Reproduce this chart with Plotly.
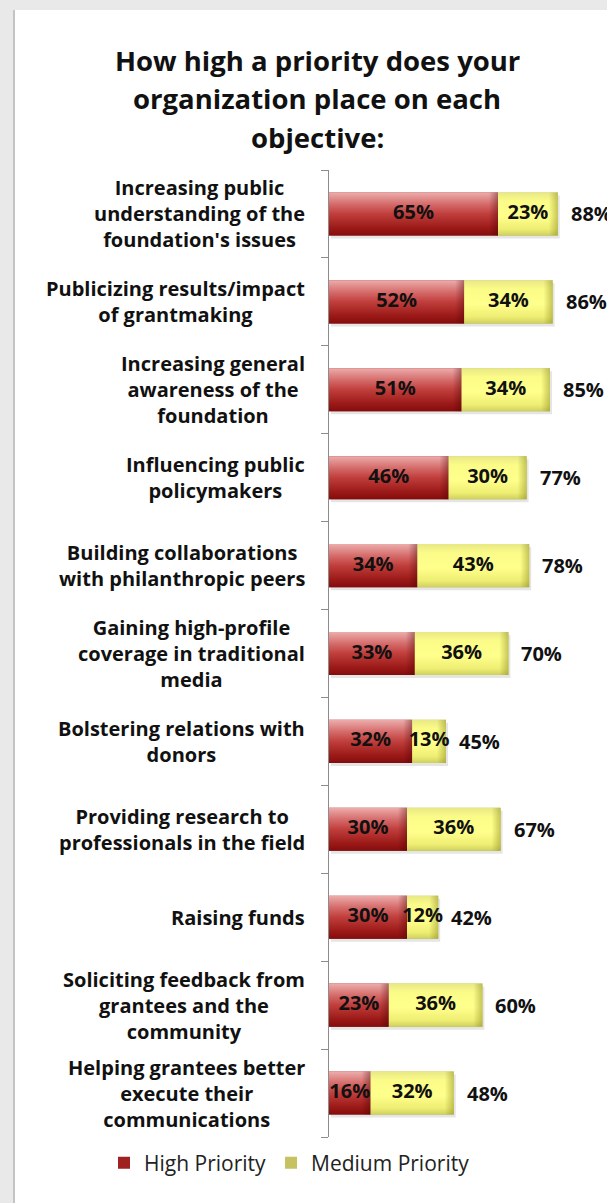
import plotly.graph_objects as go

# Survey objectives, top to bottom
categories = [
    "Increasing public<br>understanding of the<br>foundation's issues",
    "Publicizing results/impact<br>of grantmaking",
    "Increasing general<br>awareness of the<br>foundation",
    "Influencing public<br>policymakers",
    "Building collaborations<br>with philanthropic peers",
    "Gaining high-profile<br>coverage in traditional<br>media",
    "Bolstering relations with<br>donors",
    "Providing research to<br>professionals in the field",
    "Raising funds",
    "Soliciting feedback from<br>grantees and the<br>community",
    "Helping grantees better<br>execute their<br>communications",
]
high_priority = [65, 52, 51, 46, 34, 33, 32, 30, 30, 23, 16]
medium_priority = [23, 34, 34, 30, 43, 36, 13, 36, 12, 36, 32]
total_priority = [88, 86, 85, 77, 78, 70, 45, 67, 42, 60, 48]

title_lines = ["How high a priority does your", "organization place on each", "objective:"]

FONT = "Open Sans"
INK = "#111111"

W, H = 607, 1203
ML, MR, MT, MB = 329, 18, 170, 66
PW, PH = W - ML - MR, H - MT - MB
BAR_W = 0.49

# colour stops listed bottom edge first
RED_SCALE = [[0, "#840c0c"], [0.2, "#9e1c1a"], [0.5, "#c03e3c"], [0.72, "#d46a69"], [1, "#ecadac"]]
YEL_SCALE = [[0, "#cfcf5e"], [0.15, "#eeee74"], [0.45, "#ffff8c"], [0.8, "#fbfb88"], [1, "#e8e886"]]
RED_EDGE = [[0, "rgba(70,0,0,0)"], [1, "rgba(70,0,0,0.38)"]]
YEL_EDGE = [[0, "rgba(130,130,20,0)"], [1, "rgba(130,130,20,0.45)"]]


def px_x(px):
    return (px - ML) / PW


def px_y(py):
    return (H - MB - py) / PH


pos = list(range(len(categories)))
fig = go.Figure()

# Base bars (also provide the legend swatches)
fig.add_trace(go.Bar(y=pos, x=high_priority, orientation="h", width=BAR_W,
                     name="High Priority", marker=dict(color="#9e2220", line=dict(width=0)),
                     hoverinfo="skip"))
fig.add_trace(go.Bar(y=pos, x=medium_priority, base=high_priority, orientation="h", width=BAR_W,
                     name="Medium Priority", marker=dict(color="#c6c262", line=dict(width=0)),
                     hoverinfo="skip"))

half = BAR_W / 2
dx_px, dy_px = 2.0 / (PW / 100), 3.0 / (PH / len(categories))

# Soft shadow under each bar
for i, (h, m) in enumerate(zip(high_priority, medium_priority)):
    fig.add_trace(go.Scatter(
        x=[dx_px, h + m + dx_px, h + m + dx_px, dx_px, dx_px],
        y=[i - half + dy_px, i - half + dy_px, i + half + dy_px, i + half + dy_px, i - half + dy_px],
        mode="lines", line=dict(width=0), fill="toself", fillcolor="rgba(0,0,0,0.10)",
        showlegend=False, hoverinfo="skip"))

# Shaded faces drawn over each segment, with a darker band at the segment's end
for i, (h, m) in enumerate(zip(high_priority, medium_priority)):
    for x0, x1, scale, edge in ((0, h, RED_SCALE, RED_EDGE), (h, h + m, YEL_SCALE, YEL_EDGE)):
        ys = [i - half, i - half, i + half, i + half, i - half]
        fig.add_trace(go.Scatter(
            x=[x0, x1, x1, x0, x0], y=ys,
            mode="lines", line=dict(width=0), fill="toself",
            fillgradient=dict(type="vertical", colorscale=scale),
            showlegend=False, hoverinfo="skip"))
        e0 = max(x0, x1 - 3.5)
        fig.add_trace(go.Scatter(
            x=[e0, x1, x1, e0, e0], y=ys,
            mode="lines", line=dict(width=0), fill="toself",
            fillgradient=dict(type="horizontal", colorscale=edge),
            showlegend=False, hoverinfo="skip"))

# Segment value labels
seg_x = [h / 2 for h in high_priority] + [h + m / 2 for h, m in zip(high_priority, medium_priority)]
seg_t = [f"{v}%" for v in high_priority] + [f"{v}%" for v in medium_priority]
fig.add_trace(go.Scatter(
    x=seg_x, y=pos + pos, mode="text", text=seg_t,
    textfont=dict(family=FONT, size=20, color=INK, weight="bold"),
    cliponaxis=False, showlegend=False, hoverinfo="skip"))

annotations = []
# Totals to the right of each bar
for i, (h, m, t) in enumerate(zip(high_priority, medium_priority, total_priority)):
    annotations.append(dict(x=h + m, y=i, xref="x", yref="y", text=f"{t}%",
                            xanchor="left", yanchor="middle", xshift=11, showarrow=False,
                            font=dict(family=FONT, size=20, color=INK, weight="bold")))
# Category labels, centred block ending just left of the axis
for i, c in enumerate(categories):
    annotations.append(dict(x=px_x(307), y=i, xref="paper", yref="y", text=c,
                            xanchor="right", yanchor="middle", align="center", showarrow=False,
                            font=dict(family=FONT, size=20, color=INK, weight="bold")))
# Title, one centred line each
for k, line in enumerate(title_lines):
    annotations.append(dict(x=px_x(317), y=px_y(60 + 39 * k), xref="paper", yref="paper",
                            text=line, xanchor="center", yanchor="middle", showarrow=False,
                            font=dict(family=FONT, size=27.5, color=INK, weight="bold")))

shapes = [
    # page frame: grey strip on top and left with a thin edge line
    dict(type="rect", xref="paper", yref="paper", x0=px_x(0), x1=px_x(W), y0=px_y(10), y1=px_y(0),
         fillcolor="#e9e9e9", line=dict(width=0), layer="below"),
    dict(type="rect", xref="paper", yref="paper", x0=px_x(0), x1=px_x(13), y0=px_y(H), y1=px_y(0),
         fillcolor="#e9e9e9", line=dict(width=0), layer="below"),
    dict(type="rect", xref="paper", yref="paper", x0=px_x(13), x1=px_x(15), y0=px_y(H), y1=px_y(10),
         fillcolor="#c4c4c4", line=dict(width=0), layer="below"),
]

fig.update_layout(
    width=W, height=H,
    margin=dict(l=ML, r=MR, t=MT, b=MB),
    paper_bgcolor="white", plot_bgcolor="white",
    barmode="overlay",
    xaxis=dict(range=[0, 100], visible=False, fixedrange=True),
    yaxis=dict(range=[len(categories) - 0.5, -0.5], showgrid=False, zeroline=False,
               showline=True, linecolor="#8c8c8c", linewidth=1,
               tickmode="array", tickvals=[k - 0.5 for k in range(len(categories) + 1)],
               ticktext=[""] * (len(categories) + 1),
               ticks="outside", ticklen=7, tickcolor="#8c8c8c", fixedrange=True),
    showlegend=True,
    legend=dict(orientation="h", xref="paper", yref="paper",
                x=px_x(104), y=px_y(1163), xanchor="left", yanchor="middle",
                font=dict(family=FONT, size=21, color="#222222"),
                bgcolor="rgba(0,0,0,0)", itemclick=False, itemdoubleclick=False),
    annotations=annotations,
    shapes=shapes,
)

fig.write_html("out.html")
